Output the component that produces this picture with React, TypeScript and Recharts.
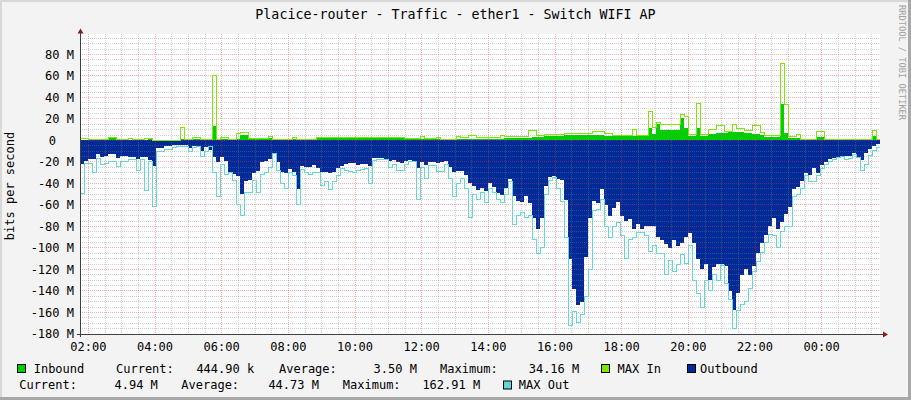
import React from "react";
import { ComposedChart, Area, Line, XAxis, YAxis, CartesianGrid } from "recharts";

// one sample every 7.2 minutes (24 h window starting 01:45)
const SAMPLE_MINUTES = 7.2;

const inbound = [
  0.6, 0.6, 0.3, 0.3, 0.5, 1, 1, 2.8, 2.8, 0.6,
  0.6, 0.6, 0.6, 0.6, 0.6, 0.6, 0.8, 1, 0.5, 0.3,
  0.3, 0.3, 0.3, 0.3, 0.3, 1.2, 1, 1, 1, 1,
  1, 1, 1, 13.7, 1.2, 1.2, 1.2, 1.2, 1.2, 1.5,
  5.3, 5.3, 1.9, 1.9, 1.9, 1.9, 1.9, 1.9, 1.2, 1.2,
  1.2, 1.2, 1.2, 1.2, 1.2, 1.2, 1.2, 1.2, 1.2, 1.9,
  1.9, 1.9, 1.9, 1.9, 1.9, 1.9, 1.9, 1.9, 1.9, 1.9,
  1.9, 1.9, 1.9, 1.9, 1.9, 1.9, 1.9, 1.9, 1.9, 1.9,
  1.9, 1.5, 1.5, 1.5, 1.5, 1.5, 1.5, 1.5, 1.5, 1.5,
  1.5, 1.5, 1.5, 1.5, 1.5, 1.5, 1.5, 1.5, 1.5, 1.5,
  1.5, 1.5, 1.5, 1.5, 1.5, 1.5, 2.2, 2.2, 2.2, 2.2,
  2.2, 2.2, 2.5, 3, 2.8, 2.8, 3.7, 3.7, 3.7, 3.7,
  3.7, 5.3, 5.3, 5.3, 5.3, 5.3, 5.3, 5.3, 5, 5,
  5, 4.3, 4.3, 3.7, 3.7, 3.7, 3.7, 3.7, 4.6, 4,
  3.7, 3.7, 12, 6.2, 15.5, 10, 10, 10, 10, 10,
  20.8, 11.5, 4.3, 4.3, 11.5, 4.3, 4.3, 6.2, 6.2, 6.8,
  6.8, 6.8, 7.5, 7.8, 7.5, 7.5, 6.8, 6.8, 6.2, 6.2,
  5.3, 2.8, 2.8, 2.8, 2.8, 33.5, 6.8, 2.2, 2.2, 2.5,
  0.6, 0.6, 0.6, 0.6, 3, 3, 0.3, 0.3, 0.3, 0.3,
  0.3, 0.3, 0.3, 0.3, 0.3, 0.3, 0.3, 0.3, 3.7, 0.3,
  0.3,
];

const maxIn = [
  1.9, 1.9, 0.6, 0.6, 0.6, 1.2, 1.2, 3, 3, 0.9,
  0.9, 0.9, 1.9, 0.6, 0.6, 0.6, 2.2, 2.2, 0.3, 0.3,
  0.3, 0.3, 0.3, 0.3, 0.3, 12.4, 0.6, 0.6, 2.8, 2.8,
  1.2, 1.2, 0.6, 60.3, 0.9, 2.8, 2.8, 0.6, 0.6, 6.8,
  7.5, 7.5, 2.2, 2.2, 2.2, 2.2, 2.2, 3.7, 0.6, 0.6,
  0.6, 0.6, 0.6, 3, 0.9, 0.9, 0.9, 0.9, 0.9, 2.5,
  2.5, 2.5, 2.5, 2.5, 2.5, 2.5, 2.5, 2.5, 2.5, 2.5,
  2.5, 2.5, 2.5, 2.5, 2.5, 2.5, 2.5, 2.5, 2.5, 2.5,
  2.5, 2.2, 2.2, 2.2, 2.2, 3.7, 1.5, 1.5, 1.5, 2.8,
  1.2, 1.2, 1.2, 1.2, 3.7, 2.5, 2.5, 4.3, 4.3, 2.8,
  2.8, 2.8, 2.8, 2.8, 2.8, 4.6, 3.7, 3.7, 3.7, 3.7,
  3.7, 3.7, 9, 9, 4.3, 4.3, 5.9, 5.9, 5.9, 5.9,
  5.9, 6.8, 6.8, 6.8, 6.8, 6.8, 6.8, 6.8, 8.4, 8.4,
  8.4, 6.2, 6.2, 4.3, 4.3, 4.3, 4.3, 4.3, 10.6, 4.3,
  4.3, 4.3, 26.7, 12.4, 16.8, 14.6, 14.6, 14.6, 14.6, 14.6,
  24, 22.4, 5.3, 5.3, 34.2, 5.3, 5.3, 10, 10, 13.7,
  13.7, 8.4, 8, 14.6, 11.5, 11.5, 9.3, 9.3, 13.7, 13.7,
  7.5, 4.3, 4.3, 4.3, 4.3, 71.4, 33, 3.7, 3.7, 5.3,
  1.2, 1.2, 1.2, 1.2, 8, 8, 0.6, 0.6, 0.6, 0.6,
  0.6, 0.6, 0.6, 0.6, 0.6, 0.6, 0.6, 0.6, 9.3, 0.6,
  0.6,
];

const outbound = [
  -22, -19, -17, -17, -13, -15, -14, -13, -13, -16,
  -14, -14, -15, -15, -17, -15, -15, -18, -24, -7,
  -7, -5, -5, -4, -4, -4, -4, -7, -5, -5,
  -10, -6, -9, -15, -20, -15, -19, -30, -31, -33,
  -50, -38, -37, -30, -28, -20, -19, -17, -12, -20,
  -29, -30, -27, -29, -45, -24, -25, -25, -23, -26,
  -29, -29, -30, -29, -26, -24, -22, -21, -21, -23,
  -22, -22, -24, -16, -16, -16, -17, -19, -18, -20,
  -21, -19, -18, -20, -26, -20, -23, -20, -20, -21,
  -20, -19, -25, -29, -28, -28, -32, -40, -42, -46,
  -44, -47, -40, -43, -49, -51, -44, -36, -52, -56,
  -57, -52, -58, -72, -82, -72, -42, -34, -33, -36,
  -37, -55, -110, -138, -153, -150, -108, -72, -56, -58,
  -45, -60, -70, -63, -57, -70, -75, -73, -82, -78,
  -82, -80, -80, -80, -90, -93, -96, -100, -93, -98,
  -95, -90, -86, -95, -110, -120, -115, -130, -118, -115,
  -115, -117, -140, -158, -142, -125, -120, -125, -117, -105,
  -95, -88, -80, -72, -82, -76, -68, -62, -45, -43,
  -38, -30, -32, -26, -30, -23, -20, -17, -16, -16,
  -14, -14, -14, -12, -16, -18, -12, -8, -5, -3,
  -3,
];

const maxOut = [
  -49, -21, -21, -30, -17, -22, -21, -20, -20, -24,
  -20, -20, -18, -18, -28, -18, -47, -20, -61, -10,
  -10, -8, -8, -7, -6, -6, -6, -10, -7, -6,
  -15, -10, -6, -30, -52, -22, -32, -30, -37, -60,
  -70, -48, -48, -37, -48, -32, -30, -25, -12, -28,
  -40, -45, -30, -33, -60, -27, -30, -32, -30, -30,
  -42, -38, -46, -38, -33, -26, -28, -29, -30, -28,
  -27, -26, -40, -19, -18, -18, -18, -25, -22, -28,
  -28, -22, -20, -20, -55, -25, -35, -23, -23, -29,
  -29, -22, -35, -52, -40, -35, -45, -72, -50, -55,
  -48, -58, -45, -48, -55, -58, -50, -38, -78, -70,
  -67, -72, -70, -92, -105, -100, -50, -37, -34, -45,
  -57, -90, -172, -159, -169, -162, -145, -120, -65, -64,
  -55, -80, -90, -80, -76, -88, -110, -92, -90, -86,
  -86, -88, -103, -98, -105, -105, -125, -112, -122, -115,
  -106, -114, -98, -130, -142, -155, -130, -140, -125, -130,
  -116, -133, -148, -175, -158, -153, -150, -138, -122, -113,
  -104, -95, -87, -88, -100, -85, -80, -80, -52, -50,
  -45, -33, -38, -38, -33, -26, -22, -20, -18, -16,
  -15, -18, -17, -13, -16, -28, -22, -14, -9, -7,
  -7,
];

const timeTicks = [15, 135, 255, 375, 495, 615, 735, 855, 975, 1095, 1215, 1335];
const timeLabels = ["02:00", "04:00", "06:00", "08:00", "10:00", "12:00", "14:00", "16:00", "18:00", "20:00", "22:00", "00:00"];
const yTicks = [80, 60, 40, 20, 0, -20, -40, -60, -80, -100, -120, -140, -160, -180];
const yLabels = ["80 M", "60 M", "40 M", "20 M", "0", "-20 M", "-40 M", "-60 M", "-80 M", "-100 M", "-120 M", "-140 M", "-160 M", "-180 M"];

const minorY: number[] = [];
for (let v = -175; v < 99; v += 5) if (v % 20 !== 0) minorY.push(v);
const minorX: number[] = [];
for (let m = 15; m < 1440; m += 30) if ((m - 15) % 120 !== 0) minorX.push(m);

const data = inbound.map((v, i) => ({
  t: i * SAMPLE_MINUTES,
  inb: v,
  maxIn: maxIn[i],
  out: outbound[i],
  maxOut: maxOut[i],
}));

const FONT = "'DejaVu Sans Mono', monospace";

const XTick = (props: any) => {
  const { x, payload } = props;
  const idx = timeTicks.indexOf(payload.value);
  return (
    <text x={x} y={350.5} textAnchor="middle" fontFamily={FONT} fontSize={12} fill="#000">
      {timeLabels[idx]}
    </text>
  );
};

const YTick = (props: any) => {
  const { y, payload } = props;
  const idx = yTicks.indexOf(payload.value);
  const right = payload.value === 0 ? 56 : 74;
  return (
    <text x={right} y={y + 4.4} textAnchor="end" fontFamily={FONT} fontSize={12} fill="#000">
      {yLabels[idx]}
    </text>
  );
};

const legendText = (s: string, x: number, y: number) => (
  <text x={x} y={y} fontFamily={FONT} fontSize={12} fill="#000" style={{ whiteSpace: "pre" }}>
    {s}
  </text>
);
const swatch = (x: number, y: number, c: string) => (
  <rect x={x + 0.5} y={y + 0.5} width={8} height={8} fill={c} stroke="#000" strokeWidth={1} />
);

export default function App() {
  return (
    <div style={{ position: "fixed", left: 0, top: 0, width: 911, height: 400, background: "#f3f3f3", overflow: "hidden" }}>
      <div style={{ position: "absolute", left: 0, top: 0 }}>
        <ComposedChart width={911} height={400} data={data} margin={{ top: 34, right: 31, bottom: 46, left: 0 }}>
          <CartesianGrid fill="#ffffff" horizontal={false} vertical={false} stroke="none" {...({ zIndex: -200 } as any)} />
          <XAxis
            dataKey="t"
            type="number"
            domain={[0, 1440]}
            ticks={timeTicks}
            interval={0}
            height={20}
            axisLine={false}
            tickLine={false}
            tick={XTick}
            allowDataOverflow
          />
          <YAxis
            type="number"
            domain={[-180, 99]}
            ticks={yTicks}
            interval={0}
            width={80}
            axisLine={false}
            tickLine={false}
            tick={YTick}
            allowDataOverflow
          />
          <Area dataKey="inb" type="stepAfter" fill="#00CF00" fillOpacity={1} stroke="none" baseValue={0} shapeRendering="crispEdges" isAnimationActive={false} dot={false} activeDot={false} />
          <Area dataKey="out" type="stepAfter" fill="#002A97" fillOpacity={1} stroke="none" baseValue={0} shapeRendering="crispEdges" isAnimationActive={false} dot={false} activeDot={false} />
          <CartesianGrid
            horizontalValues={minorY}
            verticalValues={minorX}
            stroke="#808080"
            strokeOpacity={0.38}
            strokeDasharray="1 1"
            fill="none"
            shapeRendering="crispEdges"
            {...({ zIndex: 150 } as any)}
          />
          <CartesianGrid
            horizontalValues={yTicks}
            verticalValues={timeTicks}
            stroke="#ff3030"
            strokeOpacity={0.4}
            strokeDasharray="1 1"
            fill="none"
            shapeRendering="crispEdges"
            {...({ zIndex: 160 } as any)}
          />
          <Line dataKey="maxIn" type="stepAfter" stroke="#7EE600" strokeWidth={1} shapeRendering="crispEdges" dot={false} activeDot={false} isAnimationActive={false} />
          <Line dataKey="maxOut" type="stepAfter" stroke="#5FD8D6" strokeWidth={1} shapeRendering="crispEdges" dot={false} activeDot={false} isAnimationActive={false} />
        </ComposedChart>
      </div>
      <svg width={911} height={400} style={{ position: "absolute", left: 0, top: 0, pointerEvents: "none" }}>
        <rect x={0} y={0} width={911} height={2} fill="#d8d8d8" />
        <rect x={0} y={0} width={2} height={400} fill="#d8d8d8" />
        <rect x={908} y={0} width={3} height={400} fill="#a8a8a8" />
        <rect x={0} y={397} width={911} height={3} fill="#a8a8a8" />
        <text x={455.5} y={18.5} textAnchor="middle" fontFamily={FONT} fontSize={13.3} fill="#000">
          Placice-router - Traffic - ether1 - Switch WIFI AP
        </text>
        <text x={13.5} y={186} textAnchor="middle" fontFamily={FONT} fontSize={12} fill="#000" transform="rotate(-90 13.5 186)">
          bits per second
        </text>
        <text x={899} y={5} fontFamily={FONT} fontSize={8.7} fill="#a0a0a0" transform="rotate(90 899 5)">
          RRDTOOL / TOBI OETIKER
        </text>
        <line x1={80.5} y1={31} x2={80.5} y2={337} stroke="#404040" strokeWidth={1} />
        <line x1={77} y1={334.5} x2={884} y2={334.5} stroke="#404040" strokeWidth={1} />
        <polygon points="77.5,33.5 83.5,33.5 80.5,28.5" fill="#8b1a1a" />
        <polygon points="883,331.5 883,337.5 888,334.5" fill="#8b1a1a" />
        {swatch(17, 364, "#00CF00")}
        {legendText("Inbound", 33.7, 372.5)}
        {legendText("Current:", 116, 372.5)}
        {legendText("444.90 k", 196.4, 372.5)}
        {legendText("Average:", 279, 372.5)}
        {legendText("3.50 M", 373.6, 372.5)}
        {legendText("Maximum:", 440, 372.5)}
        {legendText("34.16 M", 528.7, 372.5)}
        {swatch(601, 364, "#7EE600")}
        {legendText("MAX In", 617.6, 372.5)}
        {swatch(687, 364, "#002A97")}
        {legendText("Outbound", 700, 372.5)}
        {legendText("Current:", 19.2, 389)}
        {legendText("4.94 M", 114.5, 389)}
        {legendText("Average:", 181.3, 389)}
        {legendText("44.73 M", 268.4, 389)}
        {legendText("Maximum:", 342.8, 389)}
        {legendText("162.91 M", 422.4, 389)}
        {swatch(503, 380.5, "#5FD8D6")}
        {legendText("MAX Out", 518.8, 389)}
      </svg>
    </div>
  );
}
